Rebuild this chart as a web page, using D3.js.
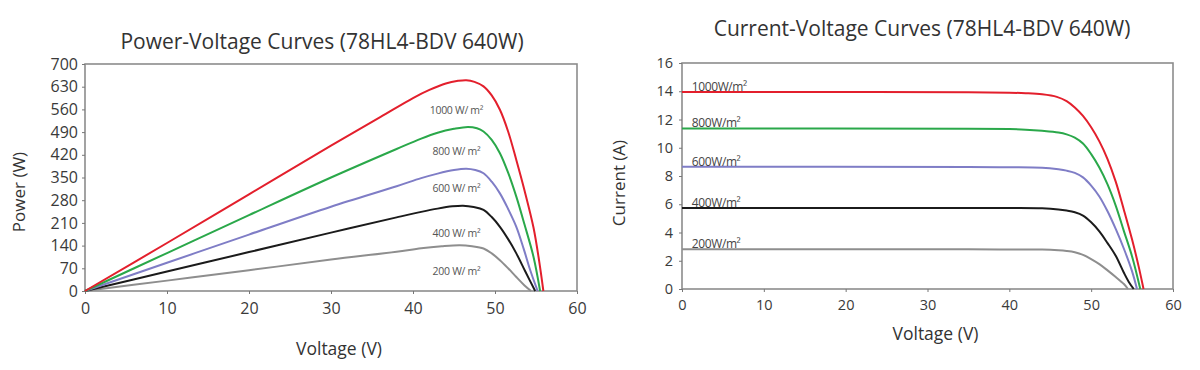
<!DOCTYPE html>
<html>
<head>
<meta charset="utf-8">
<script src="https://cdn.jsdelivr.net/npm/d3@7"></script>
<style>
  body { margin: 0; background: #fff; }
  svg { display: block; font-family: "Open Sans", sans-serif; }
  .tick text { fill: #3a3a3a; }
  .tick line { stroke: #777; }
</style>
</head>
<body>
<svg id="chart" width="1200" height="370"></svg>
<script>
// axis ticks
const voltageTicks = [0, 10, 20, 30, 40, 50, 60];
const powerTicks = [0, 70, 140, 210, 280, 350, 420, 490, 560, 630, 700];
const currentTicks = [0, 2, 4, 6, 8, 10, 12, 14, 16];

const irradiance = ["1000", "800", "600", "400", "200"];
const colors = ["#e31f2c", "#2aa84a", "#7f7dc6", "#1b1b1b", "#8e8e8e"];

// power-voltage curves, [V, W]
const pv1000 = [[0, 0], [10, 148], [20, 298], [30, 448], [36, 536], [40, 595], [42, 620], [44, 640], [45.5, 648], [46.5, 650], [47.5, 645], [48.6, 631], [49.6, 603], [50.6, 559], [51.6, 492], [52.6, 404], [53.6, 310], [54.7, 195], [55.4, 90], [55.9, 0]];
const pv800 = [[0, 0], [10, 117], [20, 234], [30, 350], [38, 438], [41, 470], [43, 488], [45, 500], [46.7, 506], [47.8, 502], [48.6, 492], [49.6, 466], [50.6, 425], [51.6, 365], [52.6, 291], [53.6, 205], [54.7, 105], [55.5, 0]];
const pv600 = [[0, 0], [10, 87], [20, 174], [30, 260], [38, 323], [41, 348], [43, 362], [45, 373], [46.5, 377], [47.6, 373], [48.6, 363], [49.6, 337], [50.6, 301], [51.6, 253], [52.6, 198], [53.5, 130], [54.3, 64], [55.2, 0]];
const pv400 = [[0, 0], [10, 60], [20, 120], [30, 180], [38, 227], [41, 244], [43, 254], [44.8, 261], [46.1, 263], [47.4, 259], [48.6, 250], [49.6, 228], [50.6, 198], [51.6, 160], [52.6, 116], [53.7, 60], [54.9, 0]];
const pv200 = [[0, 0], [10, 32], [20, 64], [30, 97], [38, 121], [41, 132], [43.5, 138], [45.7, 141], [47.2, 138], [48.6, 131], [49.6, 116], [50.6, 95], [51.6, 70], [52.6, 43], [53.6, 17], [54.4, 0]];

// current-voltage curves, [V, A]
const iv1000 = [[0, 13.95], [20, 13.95], [35, 13.93], [40, 13.9], [42, 13.86], [44, 13.78], [45.8, 13.6], [47, 13.3], [48, 12.85], [49, 12.25], [50, 11.45], [51, 10.45], [52, 9.2], [53, 7.6], [54, 5.6], [55, 3.5], [55.8, 1.6], [56.4, 0]];
const iv800 = [[0, 11.37], [35, 11.35], [40, 11.32], [42, 11.28], [44, 11.2], [46, 11.08], [47, 10.95], [48, 10.72], [49, 10.3], [50, 9.55], [51, 8.6], [52, 7.4], [53, 5.9], [54, 4.1], [55, 2.3], [56, 0]];
const iv600 = [[0, 8.65], [35, 8.64], [40, 8.62], [44, 8.58], [46, 8.47], [47, 8.38], [48, 8.22], [49, 7.9], [50, 7.32], [51, 6.55], [52, 5.5], [53, 4.25], [54, 2.85], [55, 1.25], [55.6, 0]];
const iv400 = [[0, 5.74], [35, 5.74], [40, 5.73], [44, 5.71], [46, 5.63], [47, 5.55], [48, 5.43], [49, 5.2], [50, 4.72], [51, 4.08], [52, 3.25], [53, 2.35], [54, 1.15], [54.6, 0.5], [55.2, 0]];
const iv200 = [[0, 2.81], [35, 2.81], [40, 2.8], [44, 2.79], [46, 2.74], [47, 2.69], [48, 2.6], [49, 2.42], [50, 2.12], [51, 1.76], [52, 1.32], [53, 0.85], [54, 0.35], [54.5, 0]];

// where the irradiance notes sit on the power chart (V, W)
const pvLabelAt = [[45.3, 557], [45.3, 432], [45.3, 318], [45.3, 179], [45.3, 62]];

const pvSeries = [pv1000, pv800, pv600, pv400, pv200];
const ivSeries = [iv1000, iv800, iv600, iv400, iv200];

const svg = d3.select("#chart");

function drawPanel(opts) {
  let x = d3.scaleLinear().domain([0, 60]).range([opts.left, opts.right]);
  let y = d3.scaleLinear().domain([0, opts.yMax]).range([opts.bottom, opts.top]);
  let g = svg.append("g");

  // frame
  g.append("rect")
    .attr("x", opts.left).attr("y", opts.top)
    .attr("width", opts.right - opts.left).attr("height", opts.bottom - opts.top)
    .attr("fill", "none").attr("stroke", "#8c8c8c").attr("stroke-width", 1.6);

  let xAxis = g.append("g")
    .attr("transform", "translate(0," + opts.bottom + ")")
    .call(d3.axisBottom(x).tickValues(voltageTicks).tickSize(3).tickPadding(opts.xPad));
  let yAxis = g.append("g")
    .attr("transform", "translate(" + opts.left + ",0)")
    .call(d3.axisLeft(y).tickValues(opts.yTicks).tickSize(3).tickPadding(opts.yPad));
  [xAxis, yAxis].forEach(function (a) {
    a.select(".domain").remove();
    a.selectAll("text").style("font-size", opts.tickFont + "px").style("font-family", "Open Sans");
  });

  let line = d3.line()
    .x(function (d) { return x(d[0]); })
    .y(function (d) { return y(d[1]); })
    .curve(d3.curveCatmullRom.alpha(0.5));

  // draw gray first so red ends on top
  for (let i = opts.series.length - 1; i >= 0; i--) {
    g.append("path")
      .datum(opts.series[i])
      .attr("d", line)
      .attr("fill", "none")
      .attr("stroke", colors[i])
      .attr("stroke-width", 2);
  }

  g.append("text")
    .attr("x", opts.titleX).attr("y", opts.titleY)
    .attr("text-anchor", "middle")
    .style("font-size", "21px").style("fill", "#333")
    .text(opts.title);
  g.append("text")
    .attr("x", (opts.left + opts.right) / 2 + 8).attr("y", opts.xLabelY)
    .attr("text-anchor", "middle")
    .style("font-size", "17.5px").style("fill", "#333")
    .text("Voltage (V)");
  g.append("text")
    .attr("transform", "translate(" + opts.yLabelX + "," + opts.yLabelY + ") rotate(-90)")
    .attr("text-anchor", "middle")
    .style("font-size", "17px").style("fill", "#333")
    .text(opts.yLabel);

  return { g: g, x: x, y: y };
}

let left = drawPanel({
  left: 85, right: 577, top: 64, bottom: 291,
  yMax: 700, yTicks: powerTicks, series: pvSeries,
  xPad: 9, yPad: 4, tickFont: 16,
  title: "Power-Voltage Curves (78HL4-BDV 640W)", titleX: 322, titleY: 49,
  xLabelY: 355, yLabel: "Power (W)", yLabelX: 25, yLabelY: 192
});

let right = drawPanel({
  left: 682, right: 1173, top: 63, bottom: 289,
  yMax: 16, yTicks: currentTicks, series: ivSeries,
  xPad: 8, yPad: 6, tickFont: 14.5,
  title: "Current-Voltage Curves (78HL4-BDV 640W)", titleX: 922, titleY: 36,
  xLabelY: 340, yLabel: "Current (A)", yLabelX: 625, yLabelY: 183
});

// irradiance notes
left.g.selectAll(".pv-note")
  .data(irradiance)
  .enter()
  .append("text")
  .attr("class", "pv-note")
  .attr("x", function (d, i) { return left.x(pvLabelAt[i][0]); })
  .attr("y", function (d, i) { return left.y(pvLabelAt[i][1]) + 4; })
  .attr("text-anchor", "middle")
  .style("font-size", "10.5px").style("fill", "#555")
  .style("letter-spacing", "-0.3px")
  .text(function (d) { return d + " W/ m²"; });

right.g.selectAll(".iv-note")
  .data(irradiance)
  .enter()
  .append("text")
  .attr("class", "iv-note")
  .attr("x", right.x(1.2))
  .attr("y", function (d, i) { return right.y(ivSeries[i][0][1]) - 1; })
  .style("font-size", "12px").style("fill", "#444")
  .style("letter-spacing", "-0.4px")
  .text(function (d) { return d + "W/m²"; });
</script>
</body>
</html>
